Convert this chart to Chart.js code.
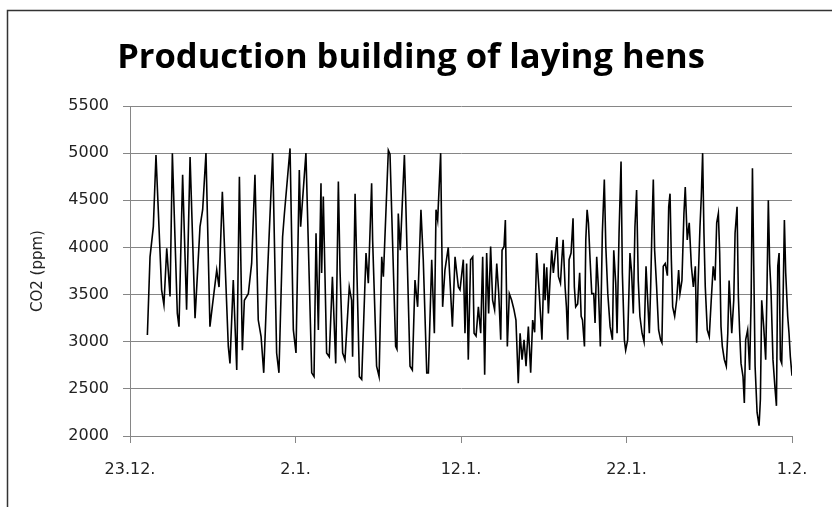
<!DOCTYPE html>
<html>
<head>
<meta charset="utf-8">
<script src="https://cdn.jsdelivr.net/npm/chart.js@4/dist/chart.umd.min.js"></script>
<style>
  html, body { margin: 0; padding: 0; background: #fff; }
  #wrap { width: 832px; height: 507px; }
</style>
</head>
<body>
<div id="wrap"><canvas id="c" width="832" height="507"></canvas></div>
<script>
const chartTitle = 'Production building of laying hens';
const yAxisTitle = 'CO2 (ppm)';
const xTickLabels = ['23.12.', '2.1.', '12.1.', '22.1.', '1.2.'];
const xTickDays = [0, 10, 20, 30, 40];
const yTicks = [2000, 2500, 3000, 3500, 4000, 4500, 5000, 5500];

// days since 23.12.
const days = [
  1.05,1.21,1.41,1.57,1.91,2.05,2.22,2.42,2.56,2.86,2.96,3.18,3.42,3.63,3.93,4.23,4.39,4.59,
  4.83,4.97,5.24,5.38,5.58,5.94,6.04,6.24,6.45,6.61,6.79,6.91,7.15,7.35,7.55,7.75,7.92,8.08,8.30,8.62,8.86,9.00,9.22,9.33,9.67,
  9.87,10.03,10.23,10.31,10.63,10.98,11.12,11.24,11.38,11.54,11.58,11.68,11.88,12.04,12.23,12.43,12.59,12.69,12.85,12.99,13.25,13.39,13.45,13.60,13.86,14.00,14.26,14.40,14.60,14.66,
  14.90,15.05,15.21,15.31,15.61,15.71,16.05,16.13,16.21,16.33,16.58,16.66,16.92,17.06,17.22,17.38,17.58,17.72,17.93,18.03,18.23,18.39,18.49,18.59,18.77,18.89,19.03,19.23,19.48,19.64,19.84,
  19.94,20.14,20.24,20.34,20.44,20.58,20.71,20.79,20.91,21.05,21.19,21.31,21.43,21.55,21.67,21.79,21.91,22.03,22.16,22.28,22.40,22.48,22.60,22.68,22.80,22.92,23.06,23.20,23.32,23.46,23.57,23.69,23.81,23.93,24.07,24.21,24.33,24.45,24.57,24.73,24.89,25.02,
  25.08,25.18,25.28,25.38,25.48,25.58,25.68,25.80,25.89,26.01,26.09,26.17,26.29,26.37,26.45,26.53,26.65,26.77,26.85,26.93,27.05,27.17,27.26,27.34,27.46,27.54,27.62,27.70,27.80,27.90,28.02,28.10,28.20,28.30,28.42,28.54,28.66,28.75,28.87,29.01,29.15,29.23,29.35,29.43,29.55,29.67,29.75,29.87,29.95,30.07,
  30.21,30.31,30.41,30.51,30.61,30.71,30.81,30.94,31.06,31.18,31.26,31.38,31.46,31.54,31.62,31.70,31.82,31.94,32.06,32.14,32.22,32.34,32.47,32.55,32.63,32.71,32.79,32.91,33.03,33.15,33.23,33.35,33.47,33.55,33.67,33.79,33.92,34.04,34.16,34.24,34.32,34.44,34.52,34.60,34.68,34.76,34.88,35.00,35.12,35.24,
  35.35,35.45,35.55,35.63,35.71,35.79,35.91,36.03,36.12,36.20,36.28,36.36,36.48,36.56,36.68,36.76,36.84,36.92,37.04,37.12,37.20,37.32,37.44,37.53,37.61,37.69,37.77,37.89,38.01,38.09,38.17,38.29,38.41,38.49,38.57,38.65,38.73,38.85,38.98,39.06,39.14,39.22,39.30,39.38,39.46,39.54,39.62,39.74,39.82,39.90,40.00
];

// CO2 concentration (ppm)
const co2 = [
  3072,3900,4220,4980,3550,3390,3990,3480,4998,3300,3160,4770,3340,4960,3250,4220,4400,5000,
  3160,3370,3760,3580,4590,2950,2770,3655,2700,4750,2910,3440,3510,3830,4770,3230,3055,2670,3690,5000,2880,2670,4110,4360,5050,
  3125,2880,4820,4220,5000,2670,2630,4150,3125,4680,3730,4540,2880,2840,3690,2770,4700,3760,2880,2810,3580,3440,2840,4570,2630,2600,3940,3620,4680,4080,
  2740,2630,3900,3690,5030,4990,2950,2920,4360,3970,4980,4500,2740,2700,3655,3370,4400,3870,2670,2670,3870,3090,4400,4290,5000,3370,3760,4000,3160,3900,3580,
  3550,3870,3090,3830,2810,3870,3900,3090,3060,3370,3090,3900,2650,3940,3300,4010,3440,3340,3830,3510,3020,3970,4010,4290,2950,3510,3440,3340,3230,2560,3090,2810,3020,2740,3160,2670,3230,3100,3940,3510,3020,3830,
  3440,3790,3300,3650,3970,3730,3900,4110,3690,3620,3870,4080,3580,3370,3020,3870,3940,4310,3580,3370,3400,3730,3270,3230,2950,4080,4400,4260,3870,3510,3510,3200,3900,3580,2950,4150,4720,4010,3510,3160,3020,3970,3620,3090,4150,4910,3730,3020,2910,3020,
  3940,3730,3300,4220,4610,3650,3270,3090,3000,3800,3510,3090,3580,4220,4720,3970,3580,3125,3020,2990,3800,3830,3700,4430,4570,3870,3370,3270,3440,3760,3510,3650,4360,4640,4080,4260,3800,3580,3800,2990,3580,4220,4540,5000,4150,3580,3125,3055,3440,3800,
  3650,4260,4360,3940,3160,2950,2810,2740,3090,3650,3370,3090,3440,4150,4430,3480,3090,2770,2630,2350,3020,3125,2700,3440,4840,3800,2740,2250,2110,2390,3440,3160,2810,3580,4500,3830,3550,2810,2490,2320,3800,3940,2810,2770,3440,4290,3730,3270,3090,2840,2640
];

const points = days.map((d, i) => ({ x: d, y: co2[i] }));

const frame = {
  id: 'frame',
  beforeDraw(chart) {
    const ctx = chart.ctx;
    ctx.save();
    ctx.fillStyle = '#fff';
    ctx.fillRect(0, 0, chart.width, chart.height);
    ctx.strokeStyle = '#333';
    ctx.lineWidth = 1.5;
    ctx.beginPath();
    ctx.moveTo(7.5, chart.height);
    ctx.lineTo(7.5, 10.5);
    ctx.lineTo(chart.width, 10.5);
    ctx.stroke();
    ctx.restore();
  }
};

new Chart(document.getElementById('c'), {
  type: 'line',
  data: {
    datasets: [{
      data: points,
      borderColor: '#000',
      borderWidth: 1.6,
      pointRadius: 0,
      tension: 0,
      fill: false
    }]
  },
  options: {
    responsive: false,
    animation: false,
    devicePixelRatio: 1,
    layout: { padding: { left: 0, right: 10, top: 0, bottom: 0 } },
    plugins: {
      legend: { display: false },
      tooltip: { enabled: false },
      title: {
        display: true,
        text: chartTitle,
        color: '#000',
        font: { family: 'Open Sans', size: 34.5, weight: 'bold', lineHeight: 1.2 },
        padding: { top: 37, bottom: 27.6 }
      }
    },
    scales: {
      x: {
        type: 'linear',
        min: 0,
        max: 40,
        afterBuildTicks(scale) { scale.ticks = xTickDays.map(v => ({ value: v })); },
        afterFit(scale) { scale.height = 71; },
        ticks: {
          callback: (v) => xTickLabels[xTickDays.indexOf(v)],
          color: '#222',
          font: { family: 'DejaVu Sans', size: 16 },
          padding: 17,
          maxRotation: 0,
          autoSkip: false
        },
        grid: { display: true, drawOnChartArea: false, color: '#868686', tickLength: 7 },
        border: { display: true, color: '#868686' }
      },
      y: {
        min: 2000,
        max: 5500,
        afterBuildTicks(scale) { scale.ticks = yTicks.map(v => ({ value: v })); },
        afterFit(scale) { scale.width = 130; },
        ticks: {
          callback: (v) => String(v),
          color: '#222',
          font: { family: 'DejaVu Sans', size: 16 },
          padding: 14
        },
        grid: { color: '#868686', tickLength: 7 },
        border: { display: true, color: '#868686' },
        title: {
          display: true,
          text: yAxisTitle,
          color: '#222',
          font: { family: 'DejaVu Sans', size: 15 },
          padding: { top: 29, bottom: 0 }
        }
      },
      rightSpace: {
        position: 'right',
        display: true,
        afterFit(scale) { scale.width = 30; },
        ticks: { display: false },
        grid: { display: false, drawOnChartArea: false },
        border: { display: false }
      }
    }
  },
  plugins: [frame]
});
</script>
</body>
</html>
